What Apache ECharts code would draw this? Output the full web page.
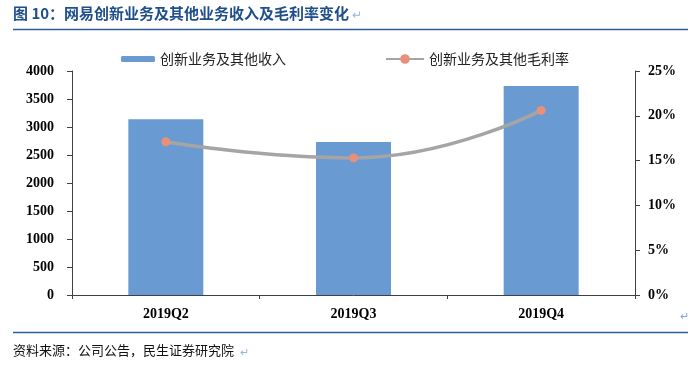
<!DOCTYPE html>
<html>
<head>
<meta charset="utf-8">
<script src="https://cdn.jsdelivr.net/npm/echarts@6/dist/echarts.min.js"></script>
<style>
html,body{margin:0;padding:0;background:#fff;}
#main{width:700px;height:377px;}
</style>
</head>
<body>
<div id="main"></div>
<script>
var categories = ['2019Q2', '2019Q3', '2019Q4'];
var revenue = [3140, 2730, 3730];
var marginPct = [17.1, 15.3, 20.6];
var leftTicks = {min: 0, max: 4000, interval: 500};
var rightTicks = {min: 0, max: 25, interval: 5};

var chart = echarts.init(document.getElementById('main'), null, {renderer: 'canvas'});
var serif = '"Liberation Serif", "Times New Roman", serif';
var cjk = '"Noto Sans CJK SC", sans-serif';
var axisColor = '#404040';

chart.setOption({
  animation: false,
  backgroundColor: '#ffffff',
  grid: {left: 72, right: 65, top: 71, bottom: 82, containLabel: false},
  legend: [
    {data: ['创新业务及其他收入'], left: 116, top: 47, itemWidth: 34, itemHeight: 6,
     textStyle: {fontFamily: cjk, fontSize: 14, color: '#222'}, itemGap: 4},
    {data: ['创新业务及其他毛利率'], left: 380, top: 47, itemWidth: 38, itemHeight: 12,
     textStyle: {fontFamily: cjk, fontSize: 14, color: '#222'}}
  ],
  xAxis: {
    type: 'category',
    data: categories,
    boundaryGap: true,
    axisLine: {lineStyle: {color: axisColor, width: 1}},
    axisTick: {show: true, length: 4, lineStyle: {color: axisColor}},
    axisLabel: {fontFamily: serif, fontWeight: 'bold', fontSize: 14, color: '#000', margin: 12}
  },
  yAxis: [
    {
      type: 'value', min: leftTicks.min, max: leftTicks.max, interval: leftTicks.interval,
      position: 'left',
      axisLine: {show: true, lineStyle: {color: axisColor, width: 1}},
      axisTick: {show: true, length: 5, lineStyle: {color: axisColor}},
      splitLine: {show: false},
      axisLabel: {fontFamily: serif, fontWeight: 'bold', fontSize: 14, color: '#000', margin: 18,
                  formatter: function (v) { return String(v); }}
    },
    {
      type: 'value', min: rightTicks.min, max: rightTicks.max, interval: rightTicks.interval,
      position: 'right',
      axisLine: {show: true, lineStyle: {color: axisColor, width: 1}},
      axisTick: {show: true, length: 5, lineStyle: {color: axisColor}},
      splitLine: {show: false},
      axisLabel: {fontFamily: serif, fontWeight: 'bold', fontSize: 14, color: '#000', margin: 13,
                  formatter: function (v) { return v + '%'; }}
    }
  ],
  series: [
    {
      name: '创新业务及其他收入', type: 'bar', data: revenue, yAxisIndex: 0,
      barWidth: 75, itemStyle: {color: '#699BD2'}
    },
    {
      name: '创新业务及其他毛利率', type: 'line', data: marginPct, yAxisIndex: 1,
      smooth: true, symbol: 'circle', symbolSize: 9,
      lineStyle: {color: '#A5A5A5', width: 3.5},
      itemStyle: {color: '#E8907A'}
    }
  ],
  graphic: [
    {type: 'text', left: 13, top: 6, style: {
      text: '图 10：网易创新业务及其他业务收入及毛利率变化', fill: '#1F4E8C',
      font: 'bold 15px ' + cjk}},
    {type: 'text', left: 352, top: 8, style: {text: '↵', fill: '#9BB5D8', font: '12px ' + cjk}},
    {type: 'line', shape: {x1: 13, y1: 29.5, x2: 688, y2: 29.5}, style: {stroke: '#2E5C9C', lineWidth: 1.5}},
    {type: 'line', shape: {x1: 13, y1: 332.5, x2: 688, y2: 332.5}, style: {stroke: '#2E5C9C', lineWidth: 1.5}},
    {type: 'text', left: 13, top: 344, style: {
      text: '资料来源：公司公告，民生证券研究院', fill: '#111', font: '13px ' + cjk}},
    {type: 'text', left: 240, top: 346, style: {text: '↵', fill: '#9BB5D8', font: '11px ' + cjk}},
    {type: 'text', left: 680, top: 310, style: {text: '↵', fill: '#7AA7E0', font: '11px ' + cjk}}
  ]
});
</script>
</body>
</html>
